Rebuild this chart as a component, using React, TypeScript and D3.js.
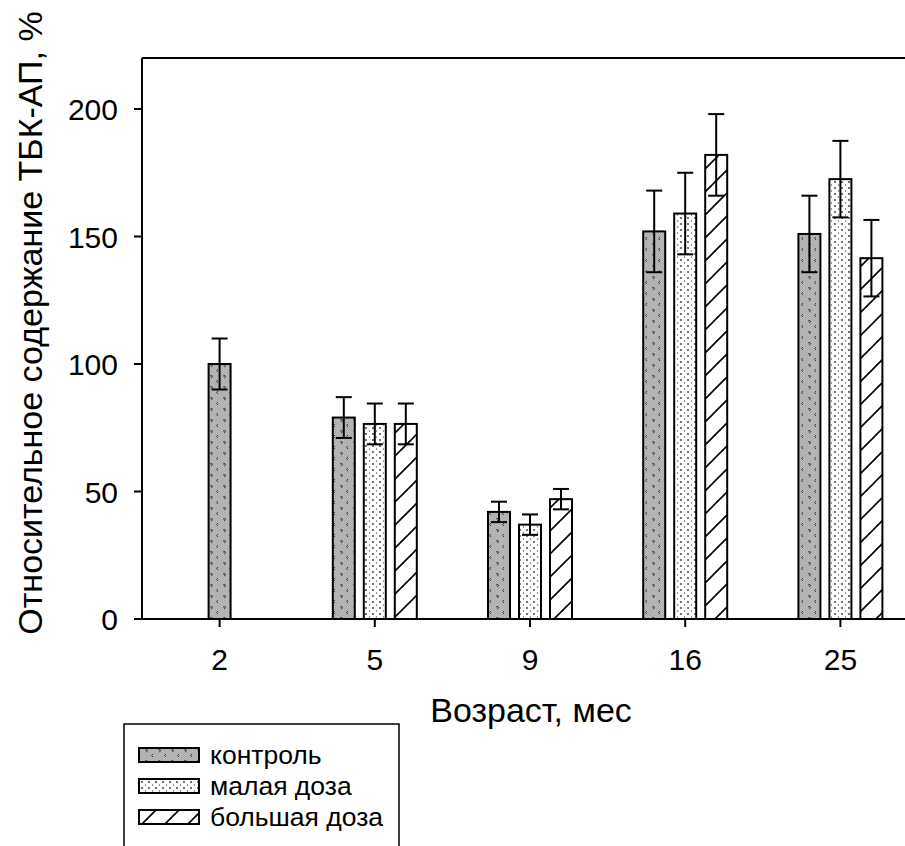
import React from "react";
import * as d3 from "d3";

const ages = ["2", "5", "9", "16", "25"];
const control = [100, 79, 42, 152, 151];
const controlErr = [10, 8, 4, 16, 15];
const smallDose = [null, 76.5, 37, 159, 172.5];
const smallDoseErr = [null, 8, 4, 16, 15];
const bigDose = [null, 76.5, 47, 182, 141.5];
const bigDoseErr = [null, 8, 4, 16, 15];
const yTicks = [0, 50, 100, 150, 200];
const seriesNames = ["контроль", "малая доза", "большая доза"];

const width = 905;
const height = 846;
const left = 142;
const top = 58;
const bottom = 619;
const right = 918;
const font = '"Liberation Sans", Arial, sans-serif';

type Series = { name: string; values: (number | null)[]; errs: (number | null)[]; fill: string };

const series: Series[] = [
  { name: seriesNames[0], values: control, errs: controlErr, fill: "url(#pControl)" },
  { name: seriesNames[1], values: smallDose, errs: smallDoseErr, fill: "url(#pDots)" },
  { name: seriesNames[2], values: bigDose, errs: bigDoseErr, fill: "url(#pHatch)" },
];

const Patterns = () => (
  <defs>
    <pattern id="pControl" patternUnits="userSpaceOnUse" width={13} height={11}>
      <rect width={13} height={11} fill="#b3b3b3" />
      <path d="M2,2 L4,1.5 L4.5,3 L3,4" stroke="#3a3a3a" strokeWidth={1} fill="none" />
      <path d="M10,6 L8.5,7.5 L10,9" stroke="#3a3a3a" strokeWidth={1} fill="none" />
    </pattern>
    <pattern id="pDots" patternUnits="userSpaceOnUse" width={7} height={6}>
      <rect width={7} height={6} fill="#ffffff" />
      <circle cx={2} cy={2} r={0.9} fill="#333" />
      <circle cx={5.5} cy={5} r={0.7} fill="#555" />
    </pattern>
    <pattern id="pHatch" patternUnits="userSpaceOnUse" width={23} height={23}>
      <rect width={23} height={23} fill="#ffffff" />
      <path d="M0,23 L23,0 M-2,2 L2,-2 M21,25 L25,21" stroke="#000" strokeWidth={1.6} />
    </pattern>
  </defs>
);

const App = () => {
  const x = d3.scaleBand<string>().domain(ages).range([left, right]).padding(0);
  const y = d3.scaleLinear().domain([0, 220]).range([bottom, top]);
  const pitch = 31;
  const capW = 16;

  const bars: any[] = [];
  ages.forEach((age, ci) => {
    // only the series that have a value share the slot, so the lone bar at 2 sits centred
    const present = series.filter(s => s.values[ci] != null);
    const inner = d3
      .scaleBand<string>()
      .domain(present.map(s => s.name))
      .range([(-present.length * pitch) / 2, (present.length * pitch) / 2])
      .paddingInner(9 / 31)
      .paddingOuter(9 / 62);
    const cx0 = (x(age) as number) + x.bandwidth() / 2;
    present.forEach(s => {
      const v = s.values[ci] as number;
      const e = s.errs[ci] as number;
      const bx = cx0 + (inner(s.name) as number);
      const bw = inner.bandwidth();
      const cx = bx + bw / 2;
      bars.push(
        <g key={age + s.name}>
          <rect x={bx} y={y(v)} width={bw} height={y(0) - y(v)} fill={s.fill} stroke="#000" strokeWidth={2} />
          <line x1={cx} x2={cx} y1={y(v + e)} y2={y(v - e)} stroke="#000" strokeWidth={2} />
          <line x1={cx - capW / 2} x2={cx + capW / 2} y1={y(v + e)} y2={y(v + e)} stroke="#000" strokeWidth={2} />
          <line x1={cx - capW / 2} x2={cx + capW / 2} y1={y(v - e)} y2={y(v - e)} stroke="#000" strokeWidth={2} />
        </g>
      );
    });
  });

  const legendRows = [748, 779, 810];

  return (
    <svg
      width={width}
      height={height}
      style={{ position: "absolute", left: 0, top: 0, background: "#fff" }}
      fontFamily={font}
    >
      <Patterns />
      <line x1={left} x2={right} y1={top} y2={top} stroke="#000" strokeWidth={2} />
      <line x1={left} x2={left} y1={top} y2={bottom} stroke="#000" strokeWidth={2} />
      {bars}
      <line x1={left} x2={right} y1={bottom} y2={bottom} stroke="#000" strokeWidth={2} />
      {yTicks.map(t => (
        <g key={t}>
          <line x1={left - 8} x2={left} y1={y(t)} y2={y(t)} stroke="#000" strokeWidth={2} />
          <text x={118} y={y(t) + 11} textAnchor="end" fontSize={30}>
            {t}
          </text>
        </g>
      ))}
      {ages.map(a => {
        const cx = (x(a) as number) + x.bandwidth() / 2;
        return (
          <g key={a}>
            <line x1={cx} x2={cx} y1={bottom} y2={bottom + 8} stroke="#000" strokeWidth={2} />
            <text x={cx} y={670} textAnchor="middle" fontSize={30}>
              {a}
            </text>
          </g>
        );
      })}
      <text x={531} y={722} textAnchor="middle" fontSize={34}>
        Возраст, мес
      </text>
      <text transform="translate(42,323) rotate(-90)" textAnchor="middle" fontSize={34}>
        Относительное содержание ТБК-АП, %
      </text>
      {/* legend, cut off by the bottom edge as in the source */}
      <rect x={124} y={724} width={275} height={200} fill="#fff" stroke="#000" strokeWidth={1.5} />
      {series.map((s, i) => (
        <g key={s.name}>
          <rect x={139} y={legendRows[i]} width={60} height={14} fill={s.fill} stroke="#000" strokeWidth={2} />
          <text x={210} y={legendRows[i] + 16} fontSize={26.5}>
            {s.name}
          </text>
        </g>
      ))}
    </svg>
  );
};

export default App;
